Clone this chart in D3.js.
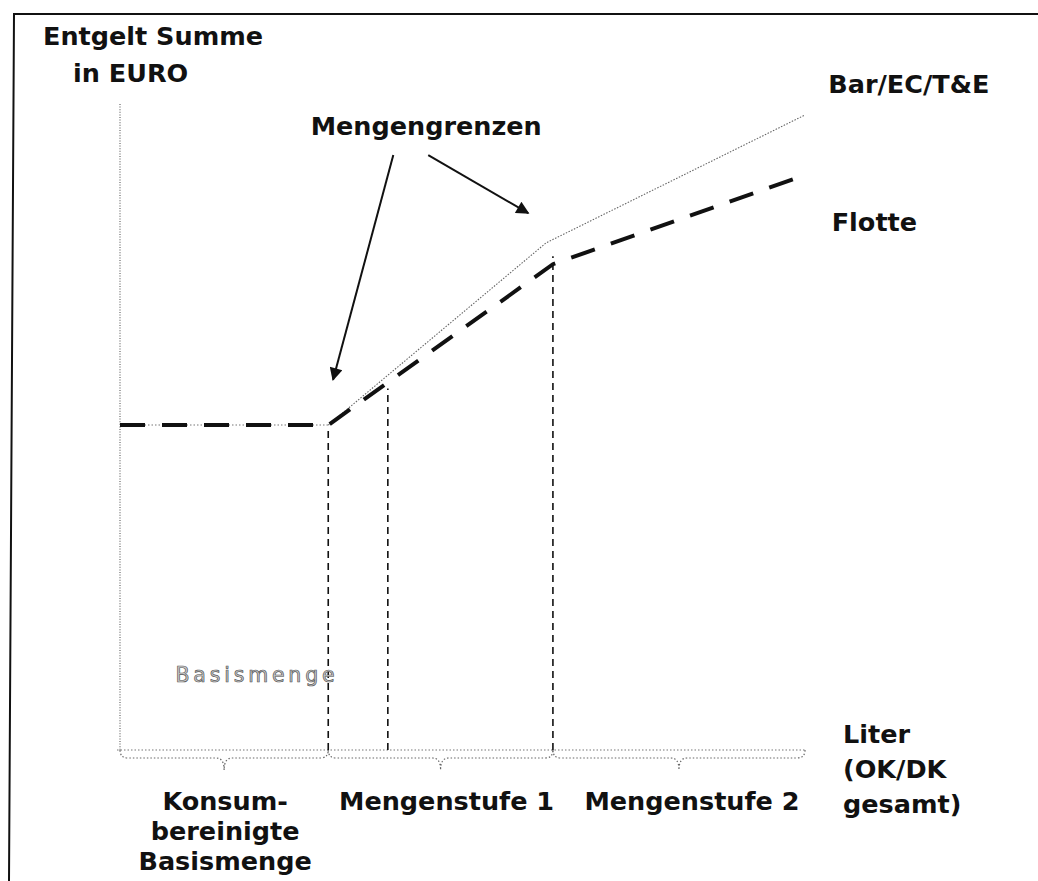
<!DOCTYPE html>
<html>
<head>
<meta charset="utf-8">
<script src="https://cdn.jsdelivr.net/npm/d3@7"></script>
<style>
  html, body { margin: 0; padding: 0; background: #fff; }
  svg { display: block; }
  text { font-family: "DejaVu Sans", "Noto Sans", sans-serif; }
</style>
</head>
<body>
<svg id="chart" width="1038" height="881"></svg>
<script>
// ---- data (abstract units: Liter on x, Entgelt on y, 0..100) ----
const segmentNames = ["Konsum-|bereinigte|Basismenge", "Mengenstufe 1", "Mengenstufe 2"];
const segmentBounds = [0, 30.4, 63.2, 100];
const basisMengeX = 39.1;
const flotteX = [0, 30.4, 63.2, 100];
const flotteY = [50.3, 50.3, 75.2, 89.0];
const barX = [30.4, 62.2, 100];
const barY = [50.3, 78.5, 98.3];
const guideX = [30.4, 39.1, 63.2];
const seriesLabels = ["Bar/EC/T&E", "Flotte"];
const seriesLabelPos = [[103.4, 101.7], [103.9, 80.3]];
const annotationText = "Mengengrenzen";
const annotationPos = [44.7, 95.2];
const arrowFrom = [[39.9, 92.1], [45.0, 92.1]];
const arrowTo = [[31.1, 57.3], [59.6, 83.1]];
const yTitle = ["Entgelt Summe", "in EURO"];
const xTitle = ["Liter", "(OK/DK", "gesamt)"];

const svg = d3.select("#chart");
const x = d3.scaleLinear().domain([0, 100]).range([120, 805]);
const y = d3.scaleLinear().domain([0, 100]).range([750, 104]);

// frame (scanned box border)
svg.append("path").attr("d", "M9,881 L14,14 L1038,14").attr("fill", "none")
  .attr("stroke", "#111").attr("stroke-width", 2);

// arrow marker
const defs = svg.append("defs");
defs.append("marker").attr("id", "ah").attr("viewBox", "0 0 10 10")
  .attr("refX", 9).attr("refY", 5).attr("markerWidth", 7.5).attr("markerHeight", 6.5)
  .attr("markerUnits", "strokeWidth").attr("orient", "auto")
  .append("path").attr("d", "M0,0 L10,5 L0,10 Z").attr("fill", "#111");

// y axis (dotted)
svg.append("line").attr("x1", x(0)).attr("x2", x(0)).attr("y1", y(100)).attr("y2", y(0))
  .attr("stroke", "#666").attr("stroke-width", 1.2).attr("stroke-dasharray", "1,1.6");
// x baseline (dotted)
svg.append("line").attr("x1", x(0) - 3).attr("x2", x(100)).attr("y1", y(0)).attr("y2", y(0))
  .attr("stroke", "#777").attr("stroke-width", 1.1).attr("stroke-dasharray", "1.5,2");

// braces
function bracePath(x0, x1, yTop, depth, tipDepth) {
  const xm = (x0 + x1) / 2, r = 8;
  const yb = yTop + depth, yt = yTop + tipDepth;
  return `M${x0},${yTop} Q${x0},${yb} ${x0 + r},${yb} L${xm - r},${yb} Q${xm},${yb} ${xm},${yt} ` +
         `Q${xm},${yb} ${xm + r},${yb} L${x1 - r},${yb} Q${x1},${yb} ${x1},${yTop}`;
}
svg.selectAll(".brace").data(d3.range(segmentNames.length)).join("path")
  .attr("class", "brace")
  .attr("d", i => bracePath(x(segmentBounds[i]), x(segmentBounds[i + 1]), y(0), 8, 20))
  .attr("fill", "none").attr("stroke", "#666").attr("stroke-width", 1.2)
  .attr("stroke-dasharray", "1.5,2");

// vertical guides (dashed)
const flotteAt = d3.scaleLinear().domain(flotteX).range(flotteY);
svg.selectAll(".guide").data(guideX).join("line").attr("class", "guide")
  .attr("x1", d => x(d)).attr("x2", d => x(d))
  .attr("y1", y(0)).attr("y2", d => y(flotteAt(d)) + (d === guideX[2] ? -8 : 6))
  .attr("stroke", "#111").attr("stroke-width", 1.6).attr("stroke-dasharray", "7,5");

// Bar/EC/T&E line (thin dotted grey)
const line = d3.line().x(d => x(d[0])).y(d => y(d[1]));
svg.append("path").datum(barX.map((v, i) => [v, barY[i]])).attr("d", line)
  .attr("fill", "none").attr("stroke", "#666").attr("stroke-width", 1.1)
  .attr("stroke-dasharray", "1.5,1.5");
// Flotte horizontal underlay dotted
svg.append("path").datum(flotteX.slice(0, 2).map((v, i) => [v, flotteY[i]])).attr("d", line)
  .attr("fill", "none").attr("stroke", "#777").attr("stroke-width", 1.1)
  .attr("stroke-dasharray", "1.5,2");
// Flotte (heavy dashed)
svg.append("path").datum(flotteX.map((v, i) => [v, flotteY[i]])).attr("d", line)
  .attr("fill", "none").attr("stroke", "#111").attr("stroke-width", 4)
  .attr("stroke-dasharray", "25,17");

// arrows
svg.selectAll(".arrow").data(d3.range(arrowFrom.length)).join("line").attr("class", "arrow")
  .attr("x1", i => x(arrowFrom[i][0])).attr("y1", i => y(arrowFrom[i][1]))
  .attr("x2", i => x(arrowTo[i][0])).attr("y2", i => y(arrowTo[i][1]))
  .attr("stroke", "#111").attr("stroke-width", 2).attr("marker-end", "url(#ah)");

// texts
const bold = sel => sel.attr("font-weight", 700).attr("fill", "#111").attr("font-size", 25.5);
bold(svg.append("text").attr("x", x(annotationPos[0])).attr("y", y(annotationPos[1]))
  .attr("text-anchor", "middle").text(annotationText));
seriesLabels.forEach((t, i) => bold(svg.append("text")
  .attr("x", x(seriesLabelPos[i][0])).attr("y", y(seriesLabelPos[i][1])).text(t)));

bold(svg.append("text").attr("x", 43).attr("y", 45).text(yTitle[0]));
bold(svg.append("text").attr("x", 73).attr("y", 82).text(yTitle[1]));

xTitle.forEach((t, i) => bold(svg.append("text").attr("x", 843).attr("y", 743 + i * 35).text(t)));

// segment labels (slightly offset from brace tips, as in the original)
const labelShift = [1, 6, 13];
segmentNames.forEach((name, i) => {
  const cx = x((segmentBounds[i] + segmentBounds[i + 1]) / 2) + labelShift[i];
  name.split("|").forEach((ln, j) => bold(svg.append("text")
    .attr("x", cx).attr("y", 810 + j * 30).attr("text-anchor", "middle").text(ln)));
});

// Basismenge label (grey, outlined look)
svg.append("text").attr("x", (x(0) + x(basisMengeX)) / 2 + 3).attr("y", 682)
  .attr("text-anchor", "middle").attr("font-size", 20.5).attr("letter-spacing", 3.8)
  .attr("fill", "#ccc").attr("stroke", "#555").attr("stroke-width", 0.7)
  .attr("font-weight", 400).text("Basismenge");
</script>
</body>
</html>
